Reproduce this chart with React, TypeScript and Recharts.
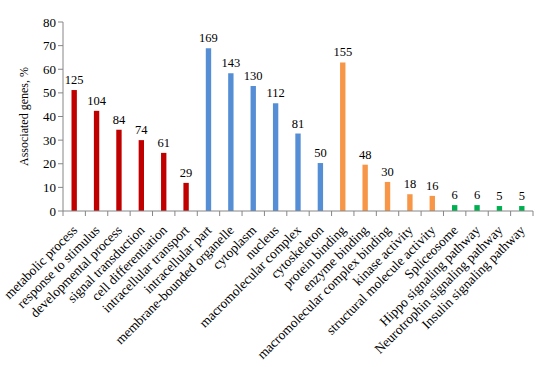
import React from "react";
import { BarChart, Bar, XAxis, YAxis, Cell, LabelList } from "recharts";

const categories = [
  "metabolic process",
  "response to stimulus",
  "developmental process",
  "signal transduction",
  "cell differentiation",
  "intracellular transport",
  "intracellular part",
  "membrane-bounded organelle",
  "cytoplasm",
  "nucleus",
  "macromolecular complex",
  "cytoskeleton",
  "protein binding",
  "enzyme binding",
  "macromolecular complex binding",
  "kinase activity",
  "structural molecule activity",
  "Spliceosome",
  "Hippo signaling pathway",
  "Neurotrophin signaling pathway",
  "Insulin signaling pathway",
];

const percents = [51.2, 42.4, 34.4, 30.0, 24.6, 11.9, 68.9, 58.3, 52.9, 45.6, 32.8, 20.3, 62.9, 19.6, 12.3, 7.1, 6.4, 2.5, 2.5, 2.1, 2.1];
const counts = [125, 104, 84, 74, 61, 29, 169, 143, 130, 112, 81, 50, 155, 48, 30, 18, 16, 6, 6, 5, 5];
const groups = [0, 0, 0, 0, 0, 0, 1, 1, 1, 1, 1, 1, 2, 2, 2, 2, 2, 3, 3, 3, 3];
const groupColors = ["#C00000", "#558ED5", "#F79646", "#00B050"];
const yTicks = [0, 10, 20, 30, 40, 50, 60, 70, 80];

const data = categories.map((name, i) => ({
  name,
  pct: percents[i],
  count: counts[i],
  group: groups[i],
}));

const FONT = "Liberation Serif";

const XTick = (props: any) => {
  const { x, y, payload, index } = props;
  const off = payload.offset || 0;
  const last = index === categories.length - 1;
  const ax = x + 4;
  const ay = y + 12;
  return (
    <g>
      <line x1={x - off} y1={y - 8} x2={x - off} y2={y - 3} stroke="#868686" />
      {last && <line x1={x + off} y1={y - 8} x2={x + off} y2={y - 3} stroke="#868686" />}
      <text
        x={ax}
        y={ay}
        textAnchor="end"
        style={{ fontFamily: FONT, fontSize: 13.5, fill: "#000" }}
        transform={`rotate(-45, ${ax}, ${ay})`}
      >
        {payload.value}
      </text>
    </g>
  );
};

export default function App() {
  return (
    <div style={{ position: "absolute", left: 0, top: 0, background: "#fff", fontFamily: FONT }}>
      <BarChart
        width={550}
        height={367}
        data={data}
        margin={{ top: 22, right: 17, left: 0, bottom: 0 }}
        barCategoryGap="62%"
        style={{ fontFamily: FONT }}
      >
        <XAxis
          dataKey="name"
          interval={0}
          height={156}
          tick={<XTick />}
          tickLine={false}
          axisLine={{ stroke: "#868686" }}
        />
        <YAxis
          width={63}
          domain={[0, 80]}
          ticks={yTicks}
          interval={0}
          tickLine={{ stroke: "#868686" }}
          tickSize={5}
          axisLine={{ stroke: "#868686" }}
          tick={{ fontFamily: FONT, fontSize: 13, fill: "#000" }}
          label={{
            value: "Associated genes, %",
            angle: -90,
            position: "insideLeft",
            offset: 24,
            style: { fontFamily: FONT, fontSize: 12, fill: "#000", textAnchor: "middle" },
          }}
        />
        <Bar dataKey="pct" isAnimationActive={false}>
          {data.map((d, i) => (
            <Cell key={i} fill={groupColors[d.group]} />
          ))}
          <LabelList
            dataKey="count"
            position="top"
            offset={6}
            style={{ fontFamily: FONT, fontSize: 12.5, fill: "#000" }}
          />
        </Bar>
      </BarChart>
    </div>
  );
}
